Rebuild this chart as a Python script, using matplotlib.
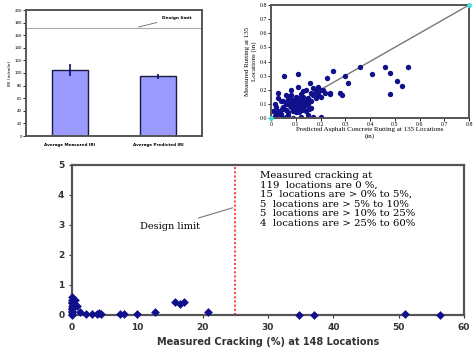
import matplotlib
matplotlib.use("Agg")
import matplotlib.pyplot as plt

# ---- IRI bar chart data ----
iri_labels = ["Average Measured IRI", "Average Predicted IRI"]
iri_values = [105, 95]
iri_err = [9, 4]
iri_limit = 172

# ---- Rutting scatter data (in) ----
rut_pred = [0.053, 0.11, 0.158, 0.225, 0.25, 0.30, 0.36, 0.41, 0.46, 0.48, 0.555, 0.51, 0.53, 0.48,
            0.24, 0.28, 0.285, 0.31, 0.238, 0.20, 0.19, 0.17, 0.03, 0.016,
            0.02, 0.03, 0.04, 0.05, 0.05, 0.06, 0.06, 0.07, 0.07, 0.08, 0.08, 0.08, 0.09, 0.09, 0.09,
            0.10, 0.10, 0.10, 0.10, 0.11, 0.11, 0.11, 0.11, 0.12, 0.12, 0.12, 0.12, 0.13, 0.13, 0.13,
            0.14, 0.14, 0.14, 0.15, 0.15, 0.16, 0.16, 0.17, 0.18, 0.18, 0.19, 0.20, 0.21, 0.22,
            0.09, 0.12, 0.15, 0.17, 0.05, 0.02, 0.04, 0.06, 0.13, 0.10, 0.07, 0.14, 0.16, 0.08,
            0.11, 0.03, 0.01, 0.095, 0.105, 0.115, 0.125, 0.085, 0.135, 0.075, 0.145, 0.105,
            0.095, 0.125, 0.115, 0.065, 0.155, 0.045, 0.035, 0.025, 0.015, 0.06, 0.20]
rut_meas = [0.30, 0.31, 0.25, 0.28, 0.33, 0.30, 0.36, 0.31, 0.36, 0.32, 0.36, 0.26, 0.23, 0.17,
            0.17, 0.18, 0.16, 0.25, 0.175, 0.20, 0.22, 0.21, 0.18, 0.10,
            0.02, 0.05, 0.03, 0.08, 0.12, 0.06, 0.10, 0.04, 0.14, 0.08, 0.11, 0.16, 0.05, 0.09, 0.13,
            0.07, 0.10, 0.12, 0.15, 0.06, 0.09, 0.11, 0.14, 0.08, 0.10, 0.13, 0.17, 0.07, 0.11, 0.15,
            0.09, 0.12, 0.20, 0.10, 0.14, 0.12, 0.18, 0.16, 0.14, 0.19, 0.17, 0.15, 0.20, 0.18,
            0.00, 0.01, 0.02, 0.01, 0.00, 0.08, 0.12, 0.16, 0.19, 0.04, 0.02, 0.05, 0.07, 0.20,
            0.22, 0.14, 0.05, 0.115, 0.085, 0.125, 0.095, 0.125, 0.085, 0.095, 0.115, 0.135,
            0.065, 0.055, 0.045, 0.115, 0.065, 0.065, 0.025, 0.035, 0.015, 0.01, 0.01]
rut_ticks = [0.0, 0.1, 0.2, 0.3, 0.4, 0.5, 0.6, 0.7, 0.8]

# ---- Cracking data (%) ----
crack_meas = [0, 0, 0, 0, 0, 0, 0, 0, 0, 0, 0, 0.5, 0.8, 1.2, 2.2, 3.0, 3.8, 4.2, 4.5,
              7.3, 8.0, 9.9, 12.7, 15.7, 16.5, 17.2, 20.8, 34.7, 37.0, 50.9, 56.3]
crack_pred = [0.6, 0.5, 0.45, 0.4, 0.3, 0.25, 0.2, 0.15, 0.1, 0.05, 0.0, 0.5, 0.3, 0.1, 0.05, 0.02,
              0.05, 0.08, 0.02, 0.03, 0.02, 0.03, 0.1, 0.42, 0.38, 0.42, 0.1, 0.0, 0.0, 0.05, 0.0]
crack_limit = 25
crack_xticks = [0, 10, 20, 30, 40, 50, 60]
crack_yticks = [0, 1, 2, 3, 4, 5]
crack_note = ["Measured cracking at",
              "119  locations are 0 %,",
              "15  locations are > 0% to 5%,",
              "5  locations are > 5% to 10%",
              "5  locations are > 10% to 25%",
              "4  locations are > 25% to 60%"]

W, H = 474, 353
fig = plt.figure(figsize=(W / 100, H / 100), dpi=100)
navy = "#10108c"
frame = "#555555"


def px_axes(l, t, r, b):
    return fig.add_axes([l / W, (H - b) / H, (r - l) / W, (b - t) / H])


# ---- IRI bars ----
ax1 = px_axes(26, 10, 202, 136)
ax1.bar([0, 1], iri_values, width=0.41, color="#9a9aff", edgecolor="#1a1a40", linewidth=1.0,
        yerr=iri_err, error_kw=dict(ecolor="#101060", elinewidth=1.2, capsize=0))
ax1.axhline(iri_limit, color="#aaaaaa", lw=0.8)
ax1.annotate("Design limit", xy=(0.75, iri_limit), xytext=(1.05, 188), fontsize=3.2,
             fontweight="bold", va="center",
             arrowprops=dict(arrowstyle="-", color="#666666", lw=0.6))
ax1.set_xlim(-0.5, 1.5)
ax1.set_ylim(0, 200)
ax1.set_yticks(range(0, 201, 20))
ax1.tick_params(axis="y", labelsize=2.8, length=2, width=0.6, pad=1)
ax1.set_xticks([0, 1])
ax1.set_xticklabels(iri_labels, fontsize=3.0, fontweight="bold")
ax1.tick_params(axis="x", length=0, pad=5)
ax1.set_ylabel("IRI (in/mile)", fontsize=3.2, labelpad=2)
for s in ax1.spines.values():
    s.set_color(frame)
    s.set_linewidth(1.4)

# ---- Rutting scatter ----
ax2 = px_axes(271, 5, 469, 118)
ax2.plot([0, 0.8], [0, 0.8], color="#777777", lw=1.0, zorder=1)
ax2.scatter(rut_pred, rut_meas, s=15, color=navy, zorder=2, linewidths=0)
ax2.scatter([0, 0.8], [0, 0.8], s=12, color="#40e0e0", zorder=3, linewidths=0, clip_on=False)
ax2.set_xlim(0, 0.8)
ax2.set_ylim(0, 0.8)
ax2.set_xticks(rut_ticks)
ax2.set_xticklabels(["0", "0.1", "0.2", "0.3", "0.4", "0.5", "0.6", "0.7", "0.8"])
ax2.set_yticks(rut_ticks)
ax2.set_yticklabels([f"{v:.1f}" for v in rut_ticks])
ax2.tick_params(labelsize=4.2, length=2, width=0.6, pad=1)
for lab in ax2.get_xticklabels() + ax2.get_yticklabels():
    lab.set_family("Liberation Serif")
ax2.set_xlabel("Predicted Asphalt Concrete Rutting at 135 Locations\n(in)", fontsize=5,
               family="Liberation Serif", labelpad=0, linespacing=1.3)
ax2.set_ylabel("Measured Rutting at 135\nLocations (in)", fontsize=5,
               family="Liberation Serif", labelpad=2)
for s in ax2.spines.values():
    s.set_color(frame)
    s.set_linewidth(1.4)

# ---- Cracking ----
ax3 = px_axes(72, 165, 464, 315)
ax3.scatter(crack_meas, crack_pred, marker="D", s=20, color=navy, zorder=3, linewidths=0,
            clip_on=False)
ax3.axvline(crack_limit, color="#ff4a4a", lw=1.5, ls=(0, (1, 1)))
ax3.annotate("Design limit", xy=(crack_limit, 3.6), xytext=(15, 2.95), fontsize=7,
             family="DejaVu Serif", ha="center", va="center",
             arrowprops=dict(arrowstyle="-", color="#777777", lw=0.8, shrinkA=3))
ax3.text(28.7, 4.8, "\n".join(crack_note), fontsize=7.3, family="DejaVu Serif",
         va="top", ha="left", linespacing=1.08)
ax3.set_xlim(0, 60)
ax3.set_ylim(0, 5)
ax3.set_xticks(crack_xticks)
ax3.set_yticks(crack_yticks)
ax3.tick_params(labelsize=6.5, length=2.5, width=0.8, colors="#333333", pad=3)
for lab in ax3.get_xticklabels() + ax3.get_yticklabels():
    lab.set_fontweight("bold")
ax3.set_xlabel("Measured Cracking (%) at 148 Locations", fontsize=7, fontweight="bold",
               color="#333333", labelpad=4)
for s in ax3.spines.values():
    s.set_color(frame)
    s.set_linewidth(1.6)

fig.savefig("out.png", dpi=100)
